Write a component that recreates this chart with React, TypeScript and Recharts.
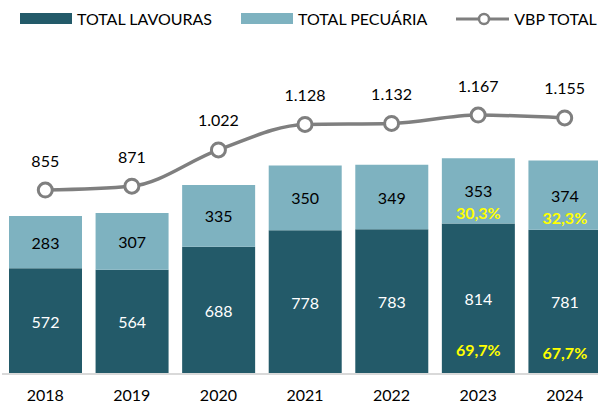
import { Bar, ComposedChart, LabelList, Legend, Line, XAxis, YAxis } from "recharts";

const years = ["2018", "2019", "2020", "2021", "2022", "2023", "2024"];
const lavouras = [572, 564, 688, 778, 783, 814, 781];
const pecuaria = [283, 307, 335, 350, 349, 353, 374];
const vbpTotal = [855, 871, 1022, 1128, 1132, 1167, 1155];
const lavourasShare = [null, null, null, null, null, 69.7, 67.7];
const pecuariaShare = [null, null, null, null, null, 30.3, 32.3];

const DARK = "#235A69";
const LIGHT = "#7EB2C0";
const GRAY = "#7F7F7F";
const FONT = "Lato, 'Open Sans', sans-serif";

const data = years.map((year, i) => ({
    year,
    lavouras: lavouras[i],
    pecuaria: pecuaria[i],
    vbp: vbpTotal[i],
}));

const fmt = (v: number) => {
    const s = String(Math.round(v));
    return s.length > 3 ? s.slice(0, s.length - 3) + "." + s.slice(-3) : s;
};
const pct = (v: number) => v.toFixed(1).replace(".", ",") + "%";

function SegmentLabel(props: any, color: string, shares: (number | null)[], pctDy: number) {
    const { x, y, width, height, value, index } = props;
    const cx = x + width / 2;
    const cy = y + height / 2;
    const share = shares[index];
    return (
        <g>
            <text x={cx} y={cy} textAnchor="middle" dominantBaseline="central" fill={color} fontSize={16} fontFamily={FONT}>
                {value}
            </text>
            {share != null && (
                <text x={cx} y={cy + pctDy} textAnchor="middle" dominantBaseline="central" fill="#FFFF00" fontSize={16} fontWeight="bold" fontFamily={FONT}>
                    {pct(share)}
                </text>
            )}
        </g>
    );
}

function LineLabel(props: any) {
    const { x, y, value } = props;
    return (
        <text x={x} y={y - 30} textAnchor="middle" dominantBaseline="central" fill="#000" fontSize={16} fontFamily={FONT}>
            {fmt(value)}
        </text>
    );
}

function LegendContent() {
    const item = { display: "flex", alignItems: "center", marginRight: 29, flexShrink: 0 } as const;
    const txt = { fontSize: 16, color: "#000", fontFamily: FONT, marginLeft: 5, whiteSpace: "nowrap" } as const;
    return (
        <div style={{ display: "flex", alignItems: "center", height: 41, width: 700, paddingLeft: 20, boxSizing: "border-box", marginTop: -2 }}>
            <div style={item}>
                <div style={{ width: 52, height: 11, background: DARK }} />
                <span style={txt}>TOTAL LAVOURAS</span>
            </div>
            <div style={item}>
                <div style={{ width: 52, height: 11, background: LIGHT }} />
                <span style={txt}>TOTAL PECUÁRIA</span>
            </div>
            <div style={item}>
                <svg width={53} height={16}>
                    <line x1={0} y1={8} x2={53} y2={8} stroke={GRAY} strokeWidth={3} />
                    <circle cx={28} cy={8} r={5} fill="#fff" stroke={GRAY} strokeWidth={2.5} />
                </svg>
                <span style={txt}>VBP TOTAL</span>
            </div>
        </div>
    );
}

export default function App() {
    return (
        <div style={{ position: "absolute", left: 0, top: 0, width: 598, height: 408, overflow: "hidden", background: "#fff" }}>
            <ComposedChart width={608} height={408} data={data} margin={{ top: 0, right: 0, bottom: 0, left: 2 }}>
                <Legend
                    verticalAlign="top"
                    align="left"
                    content={() => <LegendContent />}
                    wrapperStyle={{ top: 0, left: 0, height: 41, width: 598, overflow: "hidden" }}
                />
                <XAxis
                    dataKey="year"
                    height={34}
                    tickLine={false}
                    axisLine={{ stroke: "#D9D9D9", strokeWidth: 2 }}
                    tick={{ fill: "#000", fontSize: 16, fontFamily: FONT }}
                    tickMargin={10}
                    interval={0}
                />
                <YAxis yAxisId="bars" hide domain={[0, 1802]} />
                <YAxis yAxisId="line" hide orientation="right" domain={[90, 1475]} />
                <Bar yAxisId="bars" dataKey="lavouras" stackId="a" fill={DARK} barSize={73} isAnimationActive={false}>
                    <LabelList dataKey="lavouras" content={(p: any) => SegmentLabel(p, "#fff", lavourasShare, 51)} />
                </Bar>
                <Bar yAxisId="bars" dataKey="pecuaria" stackId="a" fill={LIGHT} barSize={73} isAnimationActive={false}>
                    <LabelList dataKey="pecuaria" content={(p: any) => SegmentLabel(p, "#000", pecuariaShare, 22)} />
                </Bar>
                <Line
                    yAxisId="line"
                    type="monotone"
                    dataKey="vbp"
                    stroke={GRAY}
                    strokeWidth={3.5}
                    dot={{ r: 7, fill: "#fff", stroke: GRAY, strokeWidth: 3 }}
                    isAnimationActive={false}
                >
                    <LabelList dataKey="vbp" content={LineLabel} />
                </Line>
            </ComposedChart>
        </div>
    );
}
